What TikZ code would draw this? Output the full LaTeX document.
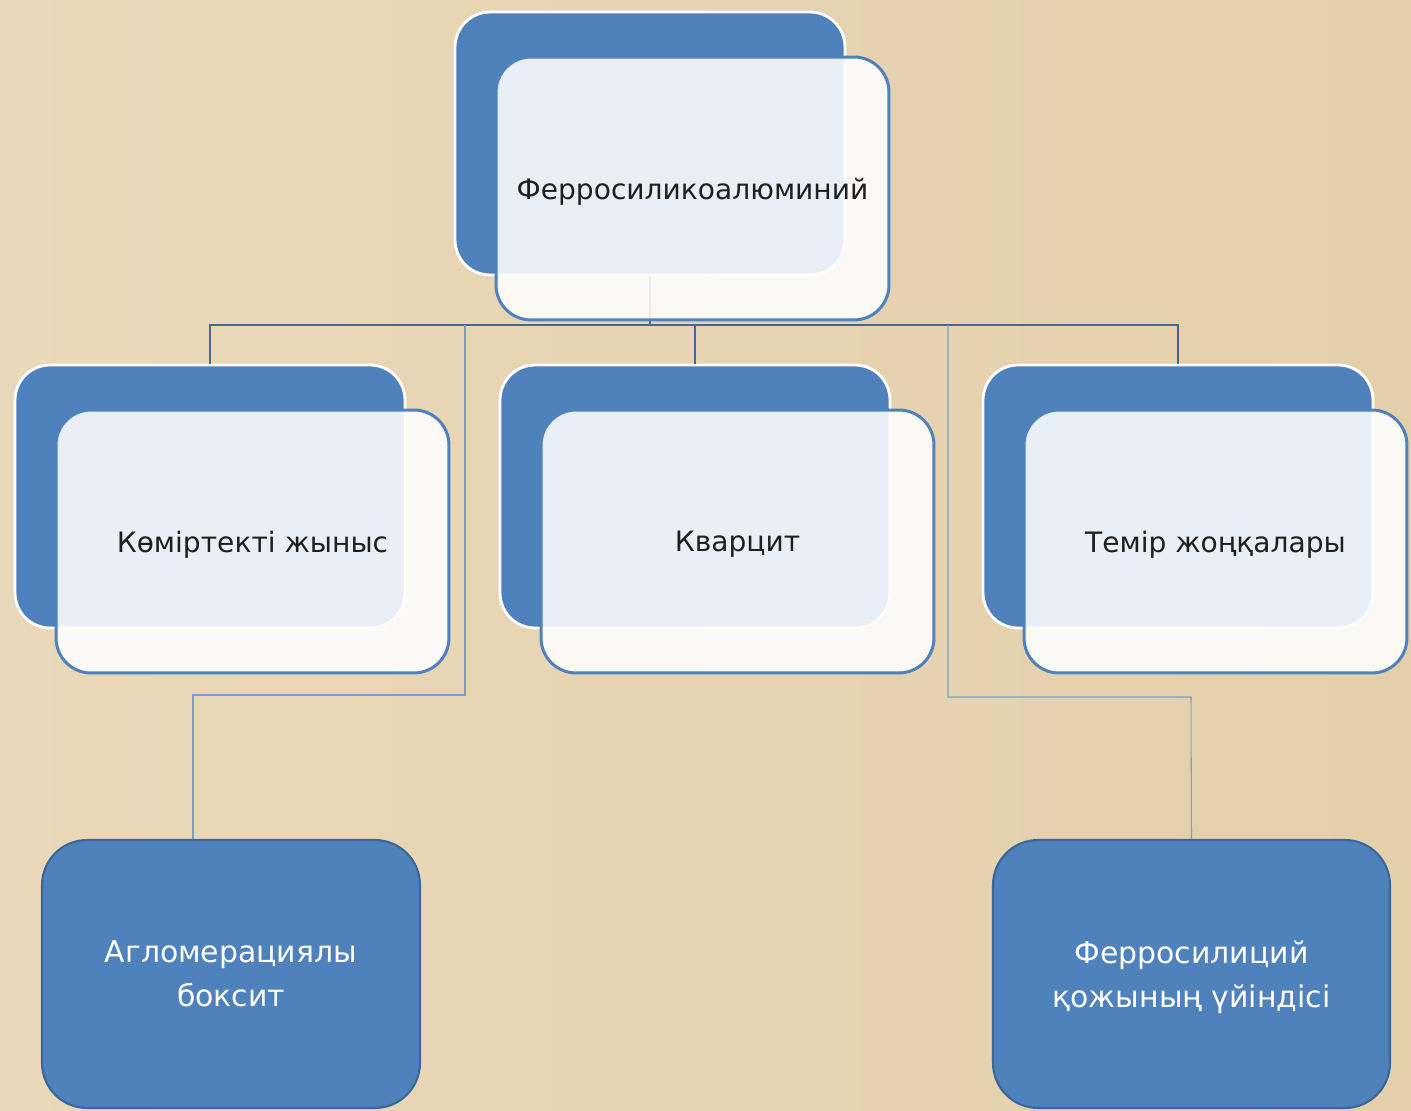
\documentclass[tikz,border=0pt]{standalone}
\usepackage{fontspec}
\setmainfont{DejaVu Sans}
\usetikzlibrary{positioning}
\definecolor{cardblue}{RGB}{79,129,189}
\definecolor{busblue}{RGB}{66,104,154}
\definecolor{linkblue}{RGB}{125,157,200}
\definecolor{leafedge}{RGB}{60,102,151}
\definecolor{sandleft}{RGB}{233,216,185}
\definecolor{sandright}{RGB}{228,207,171}
\begin{document}
\begin{tikzpicture}[
      x=0.02cm,y=-0.02cm,
      node distance=0.9cm and 0.85cm,
      back/.style={rectangle,rounded corners=0.7cm,fill=cardblue,draw=white,line width=1.6pt,
        minimum width=7.8cm,minimum height=5.26cm},
      front/.style={rectangle,rounded corners=0.7cm,fill=white,fill opacity=0.88,text opacity=1,
        draw=cardblue,line width=1.7pt,minimum width=7.86cm,minimum height=5.26cm,
        on grid,text=black!88,text depth=-0.05cm},
      leaf/.style={rectangle,rounded corners=0.9cm,fill=cardblue,draw=leafedge,line width=1.2pt,
        text=white,align=center,font=\fontsize{17}{25}\selectfont,text depth=-0.42cm},
      bus/.style={draw=busblue,line width=1.6pt},
      link/.style={draw=linkblue,line width=0.6pt},
      every node/.style={font=\fontsize{16}{19}\selectfont}
      ]
      \useasboundingbox (0,0) rectangle (1411,1111);
      \path[left color=sandleft,right color=sandright] (0,0) rectangle (1411,1111);

      % back cards
      \node[back] (topb) at (650,143.5) {};
      \node[back] (komb) at (210,496.5) {};
      \node[back] (kvab) at (695,496.5) {};
      \node[back] (temb) at (1178,496.5) {};

      % connectors
      \coordinate (bus) at (650,325);
      \coordinate (busL) at (465,325);
      \coordinate (busR) at (948,325);
      \coordinate (elbowL) at (193,695);
      \coordinate (elbowR) at (1191,697);
      \draw[bus] (topb.south) -- (bus) -| (komb.north);
      \draw[bus] (bus) -| (kvab.north);
      \draw[bus] (bus) -| (temb.north);

      % front cards
      \node[front,below right=of topb] (top) {Ферросиликоалюминий};
      \node[front,below right=of komb] (kom) {Көміртекті жыныс};
      \node[front,below right=of kvab] (kva) {Кварцит};
      \node[front,below right=0.9cm and 0.75cm of temb,minimum width=7.66cm] (tem) {Темір жоңқалары};

      % lower cards
      \node[leaf,minimum width=7.56cm,minimum height=5.36cm] (agl) at (231,974)
        {Агломерациялы\\боксит};
      \node[leaf,minimum width=7.94cm,minimum height=5.36cm] (fer) at (1191.5,974)
        {Ферросилиций\\қожының үйіндісі};
      \draw[link] (busL) |- (elbowL) -- (elbowL |- agl.north);
      \draw[link] (busR) |- (elbowR) -- (fer.north);
    \end{tikzpicture}
\end{document}
